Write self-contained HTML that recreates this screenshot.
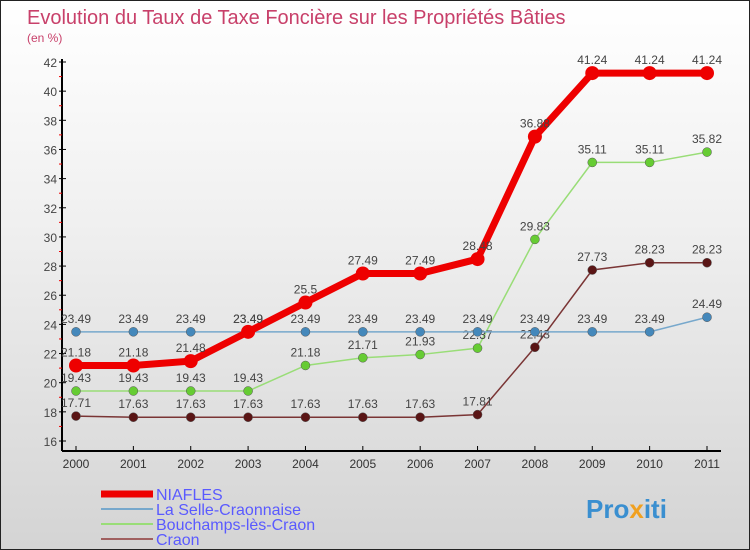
<!DOCTYPE html>
<html><head><meta charset="utf-8"><style>
body{margin:0}
#c{width:750px;height:550px;position:relative;overflow:hidden;box-sizing:border-box;border:1px solid #222;background:linear-gradient(#fff,#f0f0f0 40%,#d4d4d4);font-family:"Liberation Sans",sans-serif}
text{font-family:"Liberation Sans",sans-serif}
</style></head><body>
<div id="c">
<svg id="s" width="750" height="550">
<text x="26" y="23" font-size="20" fill="#c8406a">Evolution du Taux de Taxe Foncière sur les Propriétés Bâties</text>
<text x="26" y="41" font-size="12" fill="#c8406a">(en %)</text>
<g id="g"></g>
<text x="585" y="517" font-size="26" font-weight="bold" fill="#3a8fd0">Pro<tspan fill="#f0a020">x</tspan>iti</text>
</svg></div>
<script>
const years=["2000","2001","2002","2003","2004","2005","2006","2007","2008","2009","2010","2011"];
const yTicks=[16,18,20,22,24,26,28,30,32,34,36,38,40,42];
const niafles=[21.18,21.18,21.48,23.49,25.5,27.49,27.49,28.48,36.88,41.24,41.24,41.24];
const selle=[23.49,23.49,23.49,23.49,23.49,23.49,23.49,23.49,23.49,23.49,23.49,24.49];
const bouchamps=[19.43,19.43,19.43,19.43,21.18,21.71,21.93,22.37,29.83,35.11,35.11,35.82];
const craon=[17.71,17.63,17.63,17.63,17.63,17.63,17.63,17.81,22.43,27.73,28.23,28.23];
const seriesNames=["NIAFLES","La Selle-Craonnaise","Bouchamps-lès-Craon","Craon"];
const NS="http://www.w3.org/2000/svg",g=document.getElementById('g');
const X=i=>75+i*(706-75)/11, Y=v=>440-(v-16)*(440-61)/26;
function el(t,a,p){const e=document.createElementNS(NS,t);for(const k in a)e.setAttribute(k,a[k]);(p||g).appendChild(e);return e;}
let e=el('line',{x1:61,y1:58,x2:61,y2:450,stroke:'#000','stroke-width':2});


e=el('line',{x1:61,y1:450,x2:720,y2:450,stroke:'#000','stroke-width':2});


yTicks.forEach((v,i)=>{
 el('line',{x1:58,x2:65,y1:Y(v),y2:Y(v),stroke:'#000'});
 if(i<yTicks.length-1)el('line',{x1:58,x2:61,y1:Y(v+1),y2:Y(v+1),stroke:'#e00'});
 e=el('text',{x:56,y:Y(v)+5,'font-size':12,'text-anchor':'end',fill:'#444'});e.textContent=v;
 
 
});
years.forEach((y,i)=>{
 el('line',{x1:X(i),x2:X(i),y1:445,y2:450,stroke:'#000'});
 e=el('text',{x:X(i),y:467,'font-size':12,'text-anchor':'middle',fill:'#333'});e.textContent=y;
 
 
});
const defs=[[craon,'#7a3535','#5a1515',1.5,4.5],[bouchamps,'#99dd77','#66cc33',1.5,4.5],[selle,'#77a8cc','#4488bb',1.5,4.5],[niafles,'#ee0000','#ee0000',7,7]];
const names=['craon','bouchamps','selle','niafles'];
defs.forEach(([d,lc,pc,w,r],k)=>{
 e=el('polyline',{points:d.map((v,i)=>X(i)+','+Y(v)).join(' '),fill:'none',stroke:lc,'stroke-width':w});
 
 
 d.forEach((v,i)=>{
  e=el('circle',{cx:X(i),cy:Y(v),r:r,fill:pc,stroke:k==3?'none':'#555','stroke-width':0.5});
  
  
  e=el('text',{x:X(i),y:Y(v)-9,'font-size':12,'text-anchor':'middle',fill:'#444'});e.textContent=v;
  
  
 });
});
const lc=['#ee0000','#77a8cc','#99dd77','#a06060'],lw=[7,2,2,2];
seriesNames.forEach((n,i)=>{
 const y=493+i*15;
 e=el('line',{x1:100,x2:152,y1:y,y2:y,stroke:lc[i],'stroke-width':lw[i]});
 
 
 e=el('text',{x:155,y:y+6,'font-size':16,fill:'#5a5aff'});e.textContent=n;
 
 
});
</script></body></html>
